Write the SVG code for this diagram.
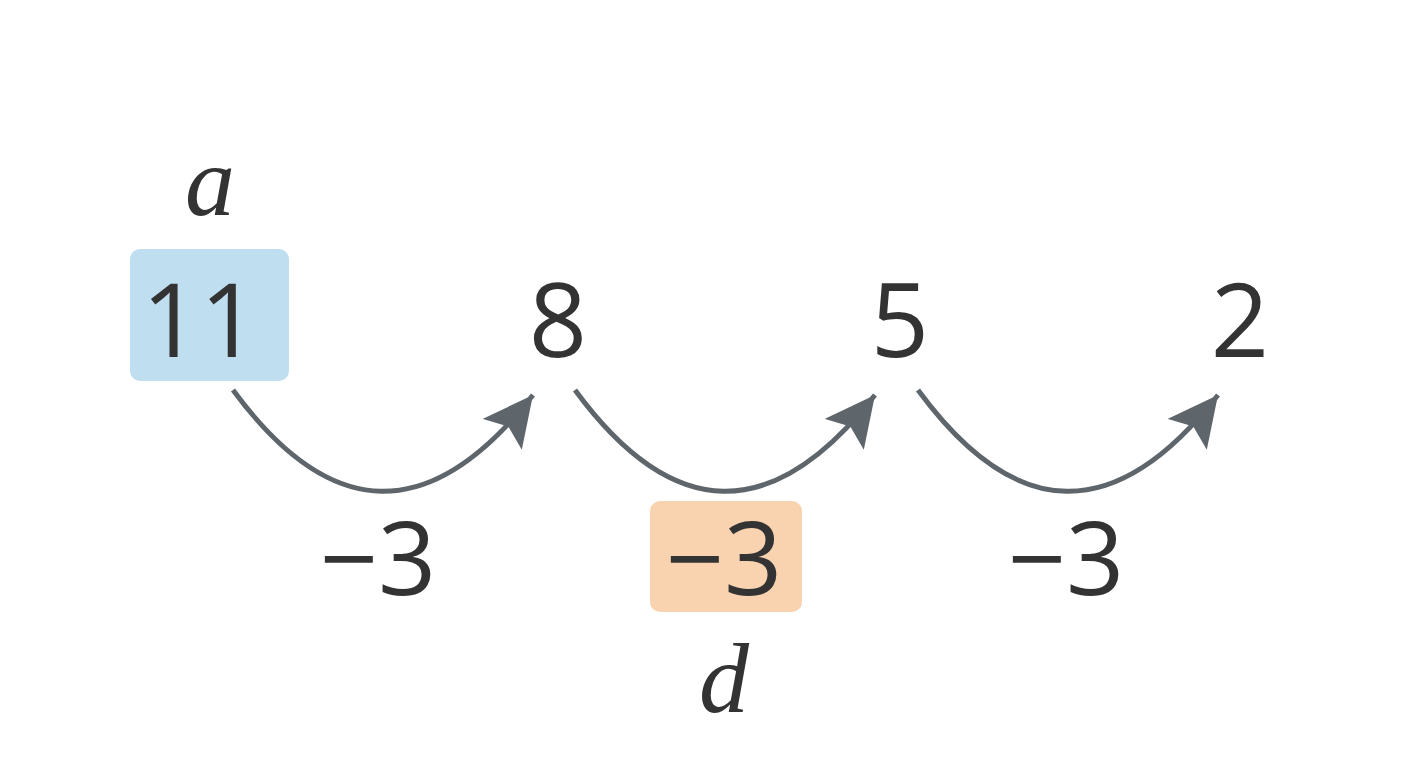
<svg xmlns="http://www.w3.org/2000/svg" width="1408" height="768" viewBox="0 0 1408 768">
<style>
.n{font-family:"Open Sans","Liberation Sans",sans-serif;font-size:102px;fill:#333;text-anchor:middle}
.v{font-family:"Liberation Serif",serif;font-style:italic;font-size:100px;fill:#333;text-anchor:middle}
.c{fill:none;stroke:#5f666b;stroke-width:5}
</style>
<defs><marker id="ah" markerUnits="userSpaceOnUse" markerWidth="60" markerHeight="60" refX="50" refY="25" orient="auto"><polygon points="50,25 0,0 10,25 0,50" fill="#5f666b"/></marker></defs>
<rect width="1408" height="768" fill="#fff"/>
<g id="n11"><rect x="130" y="249" width="159" height="132" rx="10" fill="#bfdff0"/><text class="n" x="200" y="357">11</text></g>
<g id="a"><text class="v" x="210" y="215">a</text></g>
<g id="n8"><text class="n" x="558" y="357">8</text></g>
<g id="n5"><text class="n" x="900" y="357">5</text></g>
<g id="n2"><text class="n" x="1240" y="357">2</text></g>
<g id="connectors">
<path class="c" d="M233,390 Q380,590 533,395" marker-end="url(#ah)"/>
<path class="c" d="M575,390 Q722,590 875,395" marker-end="url(#ah)"/>
<path class="c" d="M918,390 Q1065,590 1218,395" marker-end="url(#ah)"/>
</g>
<g id="d1"><text class="n" x="378" y="595">−3</text></g>
<g id="d2"><rect x="650" y="501" width="152" height="111" rx="10" fill="#f9d3b0"/><text class="n" x="724" y="595">−3</text></g>
<g id="d3"><text class="n" x="1066" y="595">−3</text></g>
<g id="d"><text class="v" x="724" y="712">d</text></g>
</svg>
